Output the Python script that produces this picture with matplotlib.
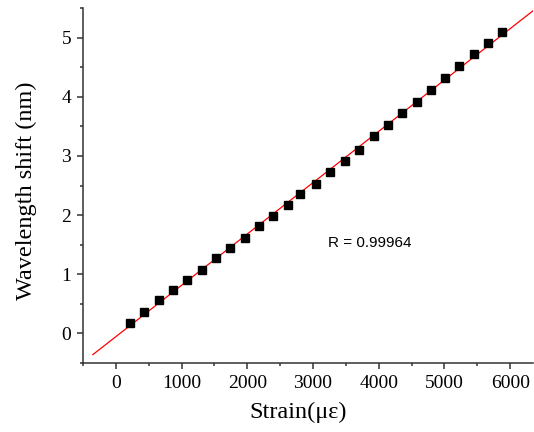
import matplotlib
matplotlib.use("Agg")
import matplotlib.pyplot as plt
import numpy as np
from matplotlib.ticker import MultipleLocator

# strain (micro-strain) and wavelength shift (nm)
strain = [218, 433, 650, 869, 1088, 1306, 1526, 1744, 1962, 2176, 2395, 2613,
          2796, 3045, 3265, 3483, 3701, 3921, 4139, 4357, 4577, 4795, 5008,
          5227, 5446, 5664, 5883]
shift = [0.17, 0.37, 0.56, 0.74, 0.91, 1.08, 1.27, 1.45, 1.62, 1.81, 1.99, 2.17,
         2.36, 2.53, 2.72, 2.91, 3.10, 3.33, 3.53, 3.72, 3.91, 4.11, 4.32,
         4.52, 4.72, 4.90, 5.09]
r_text = "R = 0.99964"

fig = plt.figure(figsize=(5.34, 4.32), dpi=100)
ax = fig.add_axes([0.1554, 0.1597, 0.843, 0.8218])

# linear fit, drawn across the plot
k, b = np.polyfit(strain, shift, 1)
xf = np.array([-350, 6500])
ax.plot(xf, k * xf + b, color="red", lw=0.9, zorder=2)
ax.plot(strain, shift, "s", color="black", ms=5.8, zorder=3)

ax.set_xlim(-500, 6350)
ax.set_ylim(-0.5, 5.5)
ax.xaxis.set_major_locator(MultipleLocator(1000))
ax.xaxis.set_minor_locator(MultipleLocator(500))
ax.yaxis.set_major_locator(MultipleLocator(1))
ax.yaxis.set_minor_locator(MultipleLocator(0.5))

for s in ["top", "right"]:
    ax.spines[s].set_visible(False)
for s in ["left", "bottom"]:
    ax.spines[s].set_linewidth(1.1)
    ax.spines[s].set_color("#333333")

ax.tick_params(which="major", direction="out", length=4.5, width=1.1,
               labelsize=14, color="#333333", pad=4)
ax.tick_params(which="minor", direction="out", length=2.5, width=1.1,
               color="#333333")
for lab in ax.get_xticklabels() + ax.get_yticklabels():
    lab.set_family("Liberation Serif")

ax.set_xlabel("Strain(\u03bc\u03b5)", family="Liberation Serif", fontsize=17.5)
ax.set_ylabel("Wavelength shift (nm)", family="Liberation Serif", fontsize=17.5)
ax.xaxis.set_label_coords((298 - 83) / 450, -(402 - 363) / 355)
ax.yaxis.set_label_coords(-(83 - 37) / 450, (363 - 191) / 355)

ax.text(3223, 1.52, r_text, family="Liberation Sans", fontsize=11, va="center")

fig.savefig("out.png", dpi=100)
